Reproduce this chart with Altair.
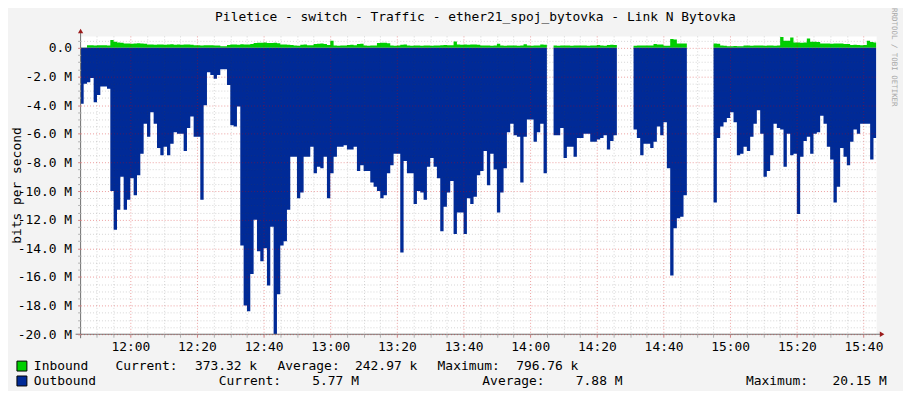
import altair as alt
import pandas as pd

MONO = "DejaVu Sans Mono"

TITLE = "Piletice - switch - Traffic - ether21_spoj_bytovka - Link N Bytovka"
Y_TITLE = "bits per second"
SIDE_TEXT = "RRDTOOL / TOBI OETIKER"

START_MIN = 705  # first sample at 11:45 (minutes since midnight)

# Outbound traffic, M bits/s (drawn downwards), one value per minute; None = no data
outbound_M = [
    3.9, 2.5, 2.4, 2.1, 3.8, 3.3, 2.7, 2.7, 2.85, 10.0,
    12.7, 11.3, 9.0, 11.3, 10.6, 9.1, 10.3, 8.9, 7.4, 5.3,
    6.2, 4.5, 5.3, 7.0, 7.5, 6.9, 7.5, 6.7, 5.9, 6.0,
    6.0, 7.2, 5.6, 4.8, 6.2, 6.2, 10.6, 4.0, 1.7, 1.9,
    2.15, 1.9, 1.5, 1.5, 2.6, 5.4, 5.5, 4.1, 13.8, 18.0,
    18.4, 15.8, 12.0, 14.2, 14.9, 14.0, 16.6, 12.5, 20.0, 17.2,
    13.8, 13.5, 11.3, 7.6, 7.6, 10.5, 10.1, 7.6, 7.6, 6.9,
    8.75, 8.3, 8.4, 7.6, 10.5, 8.75, 7.6, 6.9, 6.9, 6.8,
    7.1, 7.1, 6.9, 8.6, 8.2, 8.6, 8.6, 9.4, 9.7, 10.0,
    10.5, 10.3, 8.75, 8.2, 7.4, 7.4, 14.3, 7.9, 8.75, 8.75,
    10.9, 10.0, 10.1, 10.6, 8.3, 7.7, 8.3, 9.1, 12.8, 11.1,
    10.1, 9.3, 13.0, 11.5, 11.5, 13.0, 10.5, 10.9, 10.4, 8.9,
    8.6, 7.2, 9.6, 7.4, 8.5, 11.5, 10.1, 8.4, 5.9, 5.3,
    6.1, 6.2, 9.4, 6.2, 5.0, 5.0, 6.55, 5.9, 5.3, 8.75,
    None, None, 6.1, 6.1, 5.6, 7.7, 6.9, 6.9, 7.6, 6.3,
    6.3, 6.0, 6.0, 6.55, 6.55, 6.4, 6.3, 6.1, 7.1, 6.5,
    6.1, None, None, None, None, None, 5.7, 6.3, 7.5, 6.7,
    6.7, 7.0, 6.55, 5.5, 6.1, 5.2, 8.4, 15.9, 12.6, 11.9,
    11.8, 10.3, None, None, None, None, None, None, None, None,
    10.8, 6.3, 5.5, 5.2, 4.9, 4.5, 5.2, 7.5, 7.4, 6.9,
    7.2, 6.2, 5.3, 4.35, 6.0, 9.0, 8.6, 7.5, 5.3, 5.6,
    5.7, 8.3, 6.0, 7.5, 7.4, 11.6, 7.6, 6.5, 6.2, 7.4,
    6.0, 5.9, 4.75, 5.3, 6.9, 7.8, 10.8, 9.7, 7.0, 7.6,
    8.2, 6.55, 5.7, 6.0, 5.3, 5.3, 5.3, 7.8, 6.3,
]

# Inbound traffic, M bits/s (drawn upwards)
inbound_M = [
    0.02, 0.03, 0.19, 0.18, 0.17, 0.18, 0.19, 0.18, 0.17, 0.55,
    0.42, 0.38, 0.36, 0.3, 0.31, 0.29, 0.3, 0.32, 0.3, 0.28,
    0.24, 0.23, 0.22, 0.24, 0.23, 0.21, 0.23, 0.25, 0.22, 0.23,
    0.22, 0.24, 0.23, 0.21, 0.19, 0.18, 0.17, 0.18, 0.19, 0.18,
    0.17, 0.16, 0.12, 0.11, 0.2, 0.23, 0.24, 0.22, 0.25, 0.23,
    0.24, 0.27, 0.33, 0.36, 0.35, 0.37, 0.34, 0.33, 0.35, 0.32,
    0.23, 0.24, 0.22, 0.2, 0.16, 0.15, 0.22, 0.24, 0.19, 0.18,
    0.27, 0.29, 0.3, 0.26, 0.2, 0.5, 0.17, 0.15, 0.16, 0.17,
    0.2, 0.21, 0.19, 0.27, 0.29, 0.16, 0.15, 0.16, 0.17, 0.33,
    0.36, 0.35, 0.32, 0.16, 0.15, 0.17, 0.22, 0.24, 0.16, 0.15,
    0.16, 0.17, 0.15, 0.16, 0.16, 0.15, 0.16, 0.17, 0.19, 0.2,
    0.19, 0.18, 0.44, 0.24, 0.22, 0.23, 0.22, 0.24, 0.23, 0.21,
    0.16, 0.17, 0.16, 0.15, 0.17, 0.28, 0.16, 0.15, 0.16, 0.17,
    0.16, 0.15, 0.17, 0.25, 0.16, 0.15, 0.16, 0.17, 0.23, 0.22,
    None, None, 0.16, 0.15, 0.16, 0.17, 0.16, 0.15, 0.16, 0.16,
    0.17, 0.16, 0.15, 0.16, 0.16, 0.2, 0.16, 0.15, 0.2, 0.21,
    0.2, None, None, None, None, None, 0.15, 0.16, 0.16, 0.17,
    0.16, 0.16, 0.26, 0.23, 0.23, 0.14, 0.14, 0.62, 0.58, 0.3,
    0.3, 0.3, None, None, None, None, None, None, None, None,
    0.3, 0.28, 0.16, 0.15, 0.12, 0.12, 0.13, 0.12, 0.12, 0.16,
    0.16, 0.15, 0.16, 0.17, 0.16, 0.15, 0.16, 0.16, 0.15, 0.16,
    0.76, 0.49, 0.5, 0.72, 0.37, 0.38, 0.36, 0.37, 0.65, 0.42,
    0.43, 0.41, 0.3, 0.31, 0.3, 0.29, 0.3, 0.31, 0.3, 0.26,
    0.26, 0.2, 0.21, 0.2, 0.19, 0.2, 0.49, 0.4, 0.37,
]

series_names = ["Inbound", "Outbound"]
series_colors = ["#00CF00", "#002A97"]
legend_stats = {
    "Inbound": [("Current:", "373.32 k"), ("Average:", "242.97 k"), ("Maximum:", "796.76 k")],
    "Outbound": [("Current:", "5.77 M"), ("Average:", "7.88 M"), ("Maximum:", "20.15 M")],
}


def step_rows(name, values, sign):
    """Contiguous runs of samples; each run closed by one extra point so that
    the last minute's step is drawn (step-after interpolation)."""
    out, seg, prev = [], 0, None
    for i, v in enumerate(values):
        t = START_MIN + i
        if v is None:
            if prev is not None:
                out.append(dict(series=name, seg=f"{name}{seg}", t=t, v=sign * prev, base=0.0))
                seg += 1
            prev = None
            continue
        out.append(dict(series=name, seg=f"{name}{seg}", t=t, v=sign * v, base=0.0))
        prev = v
    if prev is not None:
        out.append(dict(series=name, seg=f"{name}{seg}", t=START_MIN + len(values), v=sign * prev, base=0.0))
    return out


df = pd.DataFrame(step_rows("Inbound", inbound_M, 1) + step_rows("Outbound", outbound_M, -1))

X_DOMAIN = [705.08, 943.8]
Y_DOMAIN = [-20.0, 0.8333]
x_ticks = list(range(705, 941, 5))
y_ticks = [round(-20 + 0.5 * k, 1) for k in range(42)]

x_axis = alt.Axis(
    values=x_ticks,
    labelExpr="datum.value % 20 == 0 ? format(floor(datum.value / 60), '02d') + ':' + format(datum.value % 60, '02d') : ''",
    title=None, domain=False, grid=True, gridDash=[1, 2],
    gridColor={"condition": {"test": "datum.value % 20 == 0", "value": "#D00000"}, "value": "#404040"},
    gridOpacity={"condition": {"test": "datum.value % 20 == 0", "value": 0.38}, "value": 0.22},
    tickColor={"condition": {"test": "datum.value % 20 == 0", "value": "#D08080"}, "value": "#B0B0B0"},
    tickSize=3, labelPadding=3, labelAngle=0, zindex=1,
)
y_axis = alt.Axis(
    values=y_ticks,
    labelExpr="datum.value % 2 == 0 ? (datum.value == 0 ? '0.0' : '-' + format(abs(datum.value), '.1f') + ' M') : ''",
    title=Y_TITLE, titleX=-64, titleY=150, titleAngle=-90, titleAlign="center", titleBaseline="middle",
    titleFont=MONO, titleFontSize=13, titleFontWeight="normal", titleColor="#000000",
    domain=False, grid=True, gridDash=[1, 2],
    gridColor={"condition": {"test": "datum.value % 2 == 0", "value": "#D00000"}, "value": "#404040"},
    gridOpacity={"condition": {"test": "datum.value % 2 == 0", "value": 0.38}, "value": 0.22},
    tickColor={"condition": {"test": "datum.value % 2 == 0", "value": "#D08080"}, "value": "#B0B0B0"},
    tickSize=3, labelPadding=6, zindex=1,
)

traffic = alt.Chart(df).mark_area(clip=True, interpolate="step-after", opacity=1).encode(
    x=alt.X("t:Q", scale=alt.Scale(domain=X_DOMAIN, nice=False, zero=False), axis=x_axis),
    y=alt.Y("v:Q", stack=None, scale=alt.Scale(domain=Y_DOMAIN, nice=False, zero=False), axis=y_axis),
    y2="base:Q",
    color=alt.Color("series:N", scale=alt.Scale(domain=series_names, range=series_colors), legend=None),
    detail="seg:N",
)

one = alt.Data(values=[{}])


def txt(text, x, y, size=13, color="#000000", **kw):
    return alt.Chart(one).mark_text(
        align=kw.pop("align", "left"), baseline="middle", font=MONO, fontSize=size, color=color, **kw
    ).encode(x=alt.value(x), y=alt.value(y), text=alt.value(text))


def box(x, y, color):
    return alt.Chart(one).mark_rect(color=color, stroke="#000000", strokeWidth=1).encode(
        x=alt.value(x), x2=alt.value(x + 10), y=alt.value(y - 5), y2=alt.value(y + 5)
    )


# axis lines with arrows (RRDtool style)
x_line = alt.Chart(one).mark_rule(color="#707070", strokeWidth=1).encode(
    x=alt.value(-5), x2=alt.value(806), y=alt.value(300))
y_line = alt.Chart(one).mark_rule(color="#707070", strokeWidth=1).encode(
    x=alt.value(0), y=alt.value(304), y2=alt.value(-4))
x_arrow = alt.Chart(one).mark_point(shape="triangle-right", filled=True, size=28, color="#9B1B1B", opacity=1).encode(
    x=alt.value(806), y=alt.value(300))
y_arrow = alt.Chart(one).mark_point(shape="triangle-up", filled=True, size=28, color="#9B1B1B", opacity=1).encode(
    x=alt.value(0), y=alt.value(-5))

legend_layers = []
row_y = [332, 347]
stat_x = {"Inbound": [35, 115, 198, 276, 359, 438], "Outbound": [139, 233, 404, 498, 669, 756]}
for name, color, ry in zip(series_names, series_colors, row_y):
    legend_layers.append(box(-64, ry, color))
    legend_layers.append(txt(name, -47, ry))
    xs = stat_x[name]
    for k, (lab, val) in enumerate(legend_stats[name]):
        legend_layers.append(txt(lab, xs[2 * k], ry))
        legend_layers.append(txt(val, xs[2 * k + 1], ry))

title_text = txt(TITLE, 397, -19, align="center")
side = txt(SIDE_TEXT, 818, -28, size=7.5, color="#A8A8A8", angle=90)

chart = alt.layer(traffic, x_line, y_line, x_arrow, y_arrow, title_text, side, *legend_layers).properties(
    width=800, height=300,
    autosize=alt.AutoSizeParams(type="none"),
    padding={"left": 73, "top": 27, "right": 27, "bottom": 56},
).configure(background="#F3F3F3").configure_view(fill="#FFFFFF", stroke="transparent").configure_axis(
    labelFont=MONO, labelFontSize=13, labelColor="#000000"
)

chart.save("out.html", embed_options={"renderer": "svg", "actions": False})
